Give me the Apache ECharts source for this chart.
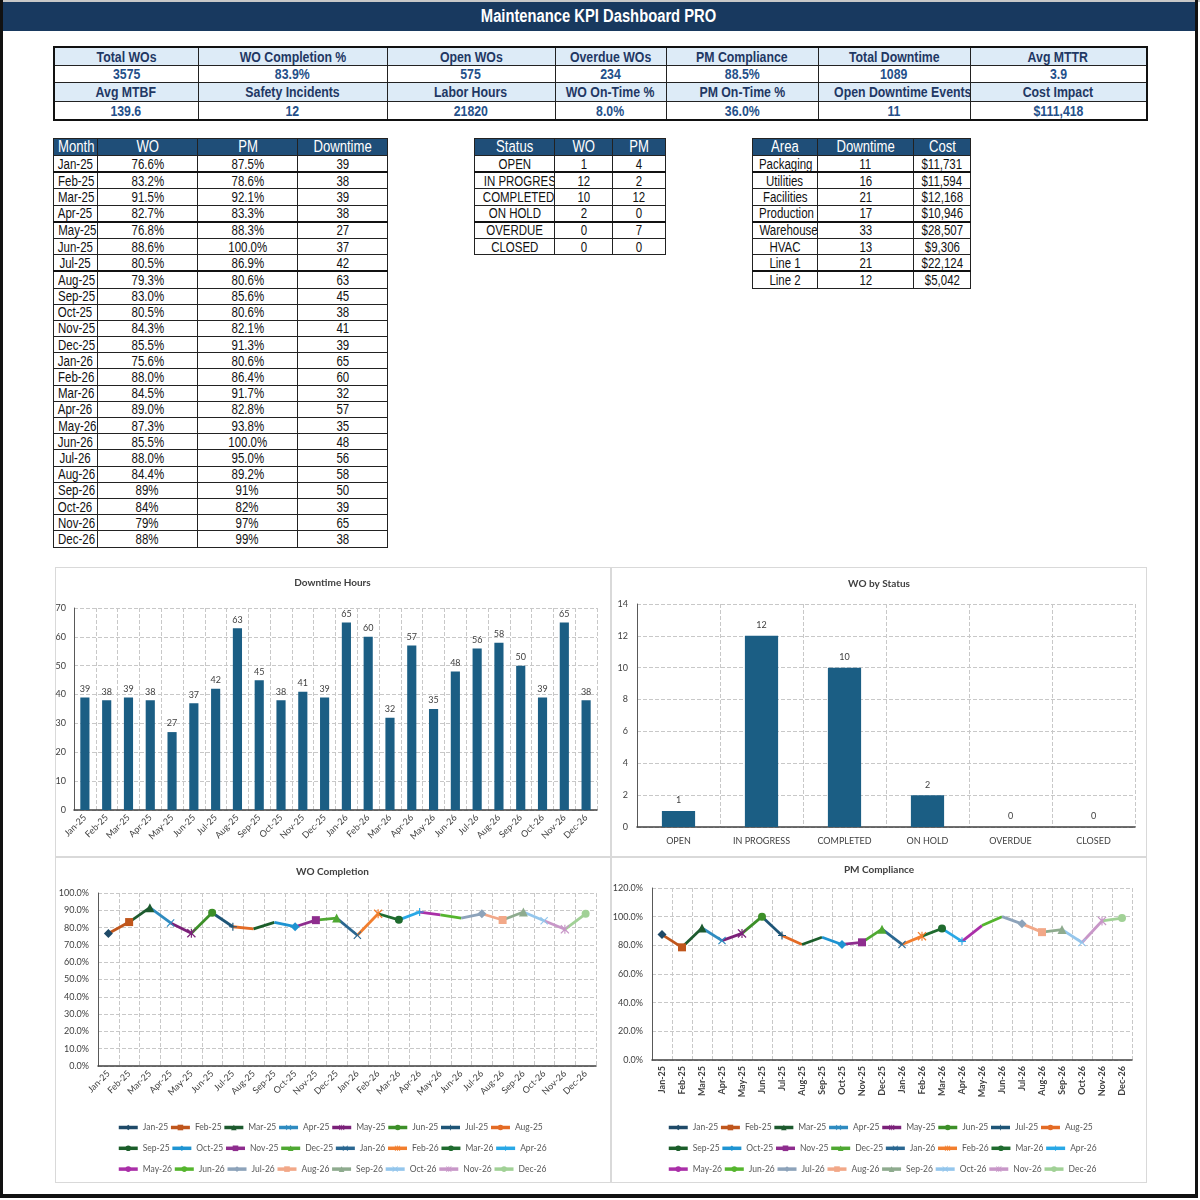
<!DOCTYPE html>
<html>
<head>
<meta charset="utf-8">
<title>Maintenance KPI Dashboard PRO</title>
<script src="https://cdn.jsdelivr.net/npm/echarts@6.0.0/dist/echarts.min.js"></script>
<style>
html,body{margin:0;padding:0;background:#fff;}
body{position:relative;width:1200px;height:1200px;overflow:hidden;font-family:"Liberation Sans",Arial,sans-serif;}
.abs{position:absolute;}
.n{display:inline-block;transform:scaleX(0.82);transform-origin:50% 50%;}
#topstrip{left:0;top:0;width:1200px;height:2px;background:#c8c8c8;}
#frameL{left:0;top:0;width:3px;height:1198px;background:#111;}
#frameR{left:1195px;top:0;width:3px;height:1198px;background:#111;}
#frameB{left:0;top:1194px;width:1198px;height:4px;background:#111;}
#titlebar{left:3px;top:2px;width:1192px;height:29px;background:#18395F;color:#fff;font-weight:bold;font-size:18px;line-height:29px;text-align:center;}
table.t{position:absolute;border-collapse:collapse;table-layout:fixed;}
table.t td{padding:0;text-align:center;white-space:nowrap;overflow:hidden;line-height:1;border:1px solid #222;}
#kpi{left:53px;top:46px;width:1093px;border:2px solid #111;}
#kpi td{font-size:15px;font-weight:bold;}
#kpi tr.h td{background:#DDEBF7;color:#1F3864;}
#kpi tr.v td{background:#fff;color:#24508A;}
.dt tr.h td{background:#1F4E78;color:#fff;font-size:16px;height:16px;}
.dt tr.r td{background:#fff;color:#111;font-size:14px;height:15.2px;}
.dt tr.thick td{border-top:2px solid #111;}
.box{position:absolute;border:1px solid #D9D9D9;box-sizing:border-box;}
.chart{position:absolute;}
</style>
</head>
<body>
<div id="topstrip" class="abs"></div>
<div id="titlebar" class="abs"><span class="n">Maintenance KPI Dashboard PRO</span></div>
<div id="frameL" class="abs"></div>
<div id="frameR" class="abs"></div>
<div id="frameB" class="abs"></div>

<table id="kpi" class="t"></table>
<table id="monthTbl" class="t dt" style="left:53px;top:138px;width:334px;"></table>
<table id="statusTbl" class="t dt" style="left:474px;top:138px;width:191px;"></table>
<table id="areaTbl" class="t dt" style="left:752px;top:138px;width:218px;"></table>

<div class="box" style="left:55px;top:567px;width:556px;height:290px;"></div>
<div class="box" style="left:611px;top:567px;width:536px;height:290px;"></div>
<div class="box" style="left:55px;top:857px;width:556px;height:326px;"></div>
<div class="box" style="left:611px;top:857px;width:536px;height:326px;"></div>

<div id="c1" class="chart" style="left:55px;top:567px;width:555px;height:289px;"></div>
<div id="c2" class="chart" style="left:611px;top:567px;width:536px;height:289px;"></div>
<div id="c3" class="chart" style="left:55px;top:857px;width:555px;height:326px;"></div>
<div id="c4" class="chart" style="left:611px;top:857px;width:536px;height:326px;"></div>

<script>
// ---------------- DATA ----------------
const months = ['Jan-25','Feb-25','Mar-25','Apr-25','May-25','Jun-25','Jul-25','Aug-25','Sep-25','Oct-25','Nov-25','Dec-25',
                'Jan-26','Feb-26','Mar-26','Apr-26','May-26','Jun-26','Jul-26','Aug-26','Sep-26','Oct-26','Nov-26','Dec-26'];
const woPct = [76.6, 83.2, 91.5, 82.7, 76.8, 88.6, 80.5, 79.3, 83.0, 80.5, 84.3, 85.5,
               75.6, 88.0, 84.5, 89.0, 87.3, 85.5, 88.0, 84.4, 89, 84, 79, 88];
const pmPct = [87.5, 78.6, 92.1, 83.3, 88.3, 100.0, 86.9, 80.6, 85.6, 80.6, 82.1, 91.3,
               80.6, 86.4, 91.7, 82.8, 93.8, 100.0, 95.0, 89.2, 91, 82, 97, 99];
const downtime = [39, 38, 39, 38, 27, 37, 42, 63, 45, 38, 41, 39,
                  65, 60, 32, 57, 35, 48, 56, 58, 50, 39, 65, 38];

const statusNames = ['OPEN','IN PROGRESS','COMPLETED','ON HOLD','OVERDUE','CLOSED'];
const statusWO = [1, 12, 10, 2, 0, 0];
const statusPM = [4, 2, 12, 0, 7, 0];

const areaNames = ['Packaging','Utilities','Facilities','Production','Warehouse','HVAC','Line 1','Line 2'];
const areaDowntime = [11, 16, 21, 17, 33, 13, 21, 12];
const areaCost = [11731, 11594, 12168, 10946, 28507, 9306, 22124, 5042];

const kpiHead1 = ['Total WOs','WO Completion %','Open WOs','Overdue WOs','PM Compliance','Total Downtime','Avg MTTR'];
const kpiVal1  = ['3575','83.9%','575','234','88.5%','1089','3.9'];
const kpiHead2 = ['Avg MTBF','Safety Incidents','Labor Hours','WO On-Time %','PM On-Time %','Open Downtime Events','Cost Impact'];
const kpiVal2  = ['139.6','12','21820','8.0%','36.0%','11','$111,418'];

const downtimeTicks = {min:0, max:70, interval:10};
const statusTicks = {min:0, max:14, interval:2};
const woTicks = {min:0, max:100, interval:10};
const pmTicks = {min:0, max:120, interval:20};

// ---------------- STYLE ----------------
const seriesColors = ['#1F4A68','#C0561C','#1D5A2E','#2E8BC0','#7B2079','#3C8F28','#1E5577','#E46B25',
                      '#1B5E2A','#1E94D2','#8E2D8E','#4FA832','#2A6791','#F27E2E','#1F6B2E','#29A8E6',
                      '#AA2FA8','#55B52E','#8DA3BA','#F2A888','#8EAB8E','#94C6EC','#C897C8','#A1D196'];
const X_SUB = 'M1,0 L5,4 L9,0 L10,1 L6,5 L10,9 L9,10 L5,6 L1,10 L0,9 L4,5 L0,1 Z';
const markerCycle = ['diamond','rect','triangle','path://' + X_SUB,
                     'path://' + X_SUB + ' M4.35,0 L5.65,0 L5.65,10 L4.35,10 Z','circle',
                     'path://M4.3,0 L5.7,0 L5.7,4.3 L10,4.3 L10,5.7 L5.7,5.7 L5.7,10 L4.3,10 L4.3,5.7 L0,5.7 L0,4.3 L4.3,4.3 Z',
                     'none','none'];
const markerSizes = [9, 8, 9, 8, 9, 8, 8, 1, 1];
const BAR = '#1B5E84';
const FONT = 'Lato';
const AX = '#404040';
const GRIDC = '#C8C8C8';

// ---------------- TABLES ----------------
function rowHtml(cls, cells, h){
  return '<tr class="' + cls + '"' + (h ? ' style="height:' + h + 'px"' : '') + '>' +
    cells.map(c => '<td><span class="n">' + c + '</span></td>').join('') + '</tr>';
}
function colgroup(ws){ return '<colgroup>' + ws.map(w => '<col style="width:' + w + 'px">').join('') + '</colgroup>'; }

document.getElementById('kpi').innerHTML =
  colgroup([144,189,168,111,152,152,177]) +
  rowHtml('h', kpiHead1, 18) + rowHtml('v', kpiVal1, 17) +
  rowHtml('h', kpiHead2, 19) + rowHtml('v', kpiVal2, 19);

const fmtPct = (v, i) => (i < 20 ? v.toFixed(1) : v.toFixed(0)) + '%';
document.getElementById('monthTbl').innerHTML =
  colgroup([44,100,100,90]) + rowHtml('h', ['Month','WO','PM','Downtime']) +
  months.map((m, i) => rowHtml('r' + (i === 1 || i === 4 || i === 7 ? ' thick' : ''),
      [m, fmtPct(woPct[i], i), fmtPct(pmPct[i], i), String(downtime[i])])).join('');

document.getElementById('statusTbl').innerHTML =
  colgroup([80,58,53]) + rowHtml('h', ['Status','WO','PM']) +
  statusNames.map((s, i) => rowHtml('r' + (i === 1 || i === 4 ? ' thick' : ''),
      [s, String(statusWO[i]), String(statusPM[i])])).join('');

document.getElementById('areaTbl').innerHTML =
  colgroup([65,96,57]) + rowHtml('h', ['Area','Downtime','Cost']) +
  areaNames.map((a, i) => rowHtml('r' + (i === 1 || i === 4 || i === 7 ? ' thick' : ''),
      [a, String(areaDowntime[i]), '$' + areaCost[i].toLocaleString('en-US')])).join('');

// ---------------- CHARTS ----------------
function titleOpt(text, top){
  return {text: text, left: 'center', top: top, textStyle: {fontSize: 10, fontWeight: 'bold', color: AX, fontFamily: FONT}};
}
function catAxis(data, labelOpt){
  return {type: 'category', data: data, boundaryGap: true,
    axisLine: {lineStyle: {color: AX, width: 1.5}}, axisTick: {show: false},
    axisLabel: Object.assign({interval: 0, fontSize: 9, color: AX, fontFamily: FONT}, labelOpt),
    splitLine: {show: true, lineStyle: {type: 'dashed', color: GRIDC}}};
}
function valAxis(t, fmt, margin){
  return {type: 'value', min: t.min, max: t.max, interval: t.interval,
    axisLine: {show: true, lineStyle: {color: '#595959'}}, axisTick: {show: false},
    axisLabel: {fontSize: 9, color: AX, margin: margin, fontFamily: FONT, formatter: fmt},
    splitLine: {show: true, lineStyle: {type: 'dashed', color: GRIDC}}};
}

const c1 = echarts.init(document.getElementById('c1'), null, {renderer: 'canvas'});
c1.setOption({
  animation: false, textStyle: {fontFamily: FONT},
  title: titleOpt('Downtime Hours', 6),
  grid: {left: 19, right: 13, top: 41, bottom: 46, outerBoundsMode: 'none'},
  xAxis: catAxis(months, {rotate: 45, margin: 6}),
  yAxis: valAxis(downtimeTicks, '{value}', 8),
  series: [{type: 'bar', data: downtime, barWidth: '42%', itemStyle: {color: BAR},
    label: {show: true, position: 'top', fontSize: 9, color: AX, distance: 4}}]
});

const c2 = echarts.init(document.getElementById('c2'), null, {renderer: 'canvas'});
c2.setOption({
  animation: false, textStyle: {fontFamily: FONT},
  title: titleOpt('WO by Status', 7),
  grid: {left: 26, right: 12, top: 37, bottom: 29, outerBoundsMode: 'none'},
  xAxis: catAxis(statusNames, {margin: 10}),
  yAxis: valAxis(statusTicks, '{value}', 9),
  series: [{type: 'bar', data: statusWO, barWidth: '40%', itemStyle: {color: BAR},
    label: {show: true, position: 'top', fontSize: 9, color: AX, distance: 6}}]
});

function segData(vals, k){
  return vals.map((v, i) => i === k ? v : (i === k - 1 ? {value: v, symbol: 'none'} : '-'));
}
function lineSeries(vals){
  return months.map((m, k) => ({
    name: m, type: 'line', data: segData(vals, k),
    symbol: markerCycle[k % 9], symbolSize: markerSizes[k % 9],
    showAllSymbol: true, connectNulls: false,
    lineStyle: {width: 2.8, color: seriesColors[k]},
    itemStyle: {color: seriesColors[k]},
    emphasis: {disabled: true}
  }));
}
function legends(left){
  return [0, 1, 2].map(r => ({
    data: months.slice(r * 8, r * 8 + 8), left: left, top: 261 + r * 20.8,
    orient: 'horizontal', itemWidth: 19, itemHeight: 7, itemGap: 1, selectedMode: false,
    lineStyle: {width: 3.5},
    textStyle: {fontSize: 8.5, color: '#595959', width: 29, overflow: 'none', fontFamily: FONT}
  }));
}
const pctFmt = v => v.toFixed(1) + '%';

const c3 = echarts.init(document.getElementById('c3'), null, {renderer: 'canvas'});
c3.setOption({
  animation: false, textStyle: {fontFamily: FONT},
  title: titleOpt('WO Completion', 5),
  grid: {left: 43, right: 14, top: 36, bottom: 117, outerBoundsMode: 'none'},
  legend: legends(57),
  xAxis: catAxis(months, {rotate: 45, margin: 6}),
  yAxis: valAxis(woTicks, pctFmt, 9),
  series: lineSeries(woPct)
});

const c4 = echarts.init(document.getElementById('c4'), null, {renderer: 'canvas'});
c4.setOption({
  animation: false, textStyle: {fontFamily: FONT},
  title: titleOpt('PM Compliance', 3),
  grid: {left: 41, right: 15, top: 31, bottom: 123, outerBoundsMode: 'none'},
  legend: legends(51),
  xAxis: catAxis(months, {rotate: 90, margin: 6, fontWeight: 'bold'}),
  yAxis: valAxis(pmTicks, pctFmt, 9),
  series: lineSeries(pmPct)
});
</script>
</body>
</html>
